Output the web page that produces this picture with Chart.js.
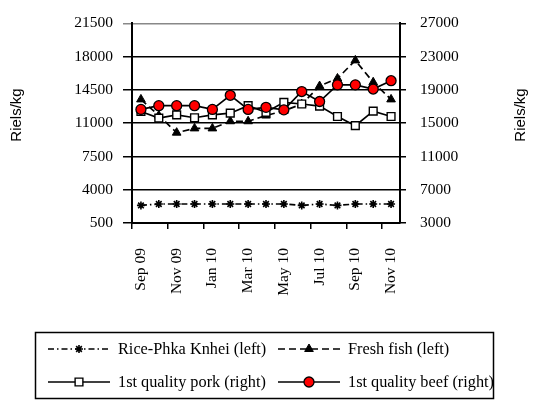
<!DOCTYPE html>
<html>
<head>
<meta charset="utf-8">
<script src="https://cdn.jsdelivr.net/npm/chart.js@4.4.1/dist/chart.umd.min.js"></script>
<style>
  body { margin: 0; background: #fff; }
</style>
</head>
<body>
<canvas id="chart" width="534" height="402"></canvas>
<script>
const months = ["Sep 09", "Oct 09", "Nov 09", "Dec 09", "Jan 10", "Feb 10", "Mar 10", "Apr 10",
  "May 10", "Jun 10", "Jul 10", "Aug 10", "Sep 10", "Oct 10", "Nov 10"];

// left axis series
const rice = [2350, 2500, 2500, 2500, 2500, 2500, 2500, 2500, 2500, 2350, 2500, 2350, 2500, 2500, 2500];
const fish = [13500, 11800, 10000, 10450, 10450, 11200, 11200, 11800, 12300, 13000, 14900, 15700, 17600, 15300, 13500];
// right axis series
const pork = [16400, 15600, 16000, 15650, 16000, 16200, 17100, 16300, 17500, 17300, 17050, 15800, 14700, 16450, 15800];
const beef = [16650, 17100, 17100, 17100, 16650, 18350, 16650, 16900, 16600, 18800, 17600, 19600, 19600, 19100, 20100];

const leftTicks = [500, 4000, 7500, 11000, 14500, 18000, 21500];
const rightTicks = [3000, 7000, 11000, 15000, 19000, 23000, 27000];
const axisTitle = "Riels/kg";

const serif = '"Liberation Serif", "Times New Roman", serif';
const sans = '"Liberation Sans", Arial, sans-serif';

// boxed 2x2 legend under the chart + both axis titles
const boxedLegend = {
  id: "boxedLegend",
  afterDraw(chart) {
    const ctx = chart.ctx;
    ctx.save();
    ctx.strokeStyle = "#000";
    ctx.lineWidth = 1.5;
    ctx.strokeRect(35.5, 332.5, 458, 66);
    const slots = [[48, 349], [278, 349], [48, 382], [278, 382]];
    chart.data.datasets.forEach((ds, i) => {
      const [x, y] = slots[i];
      ctx.beginPath();
      ctx.setLineDash(ds.borderDash || []);
      ctx.lineWidth = ds.borderWidth;
      ctx.strokeStyle = "#000";
      ctx.moveTo(x, y);
      ctx.lineTo(x + 62, y);
      ctx.stroke();
      ctx.setLineDash([]);
      ctx.fillStyle = ds.pointBackgroundColor;
      ctx.strokeStyle = ds.pointBorderColor;
      ctx.lineWidth = ds.pointBorderWidth;
      Chart.helpers.drawPoint(ctx, {
        pointStyle: ds.pointStyle, radius: ds.pointRadius, rotation: 0, borderWidth: ds.pointBorderWidth
      }, x + 31, y);
      ctx.fillStyle = "#000";
      ctx.font = "16.3px " + serif;
      ctx.textBaseline = "middle";
      ctx.textAlign = "left";
      ctx.fillText(ds.label, x + 70, y + 1);
    });
    ctx.font = "15px " + sans;
    ctx.textAlign = "center";
    ctx.textBaseline = "middle";
    [17, 521].forEach(x => {
      ctx.save();
      ctx.translate(x, 115);
      ctx.rotate(-Math.PI / 2);
      ctx.fillText(axisTitle, 0, 0);
      ctx.restore();
    });
    ctx.restore();
  }
};

const tickFont = { family: serif, size: 15.5 };

new Chart(document.getElementById("chart"), {
  type: "line",
  data: {
    labels: months,
    datasets: [
      {
        label: "Rice-Phka Knhei (left)", data: rice, yAxisID: "y",
        borderColor: "#000", borderWidth: 1.7, borderDash: [6, 3, 1.5, 3],
        pointStyle: "star", pointRadius: 4, pointBorderColor: "#000",
        pointBackgroundColor: "#000", pointBorderWidth: 1.6, order: 3
      },
      {
        label: "Fresh fish (left)", data: fish, yAxisID: "y",
        borderColor: "#000", borderWidth: 1.7, borderDash: [7, 4],
        pointStyle: "triangle", pointRadius: 5, pointBorderColor: "#000",
        pointBackgroundColor: "#000", pointBorderWidth: 1, order: 2
      },
      {
        label: "1st quality pork (right)", data: pork, yAxisID: "y2",
        borderColor: "#000", borderWidth: 1.7,
        pointStyle: "rect", pointRadius: 5.5, pointBorderColor: "#000",
        pointBackgroundColor: "#fff", pointBorderWidth: 1.4, order: 1
      },
      {
        label: "1st quality beef (right)", data: beef, yAxisID: "y2",
        borderColor: "#000", borderWidth: 1.7,
        pointStyle: "circle", pointRadius: 5, pointBorderColor: "#000",
        pointBackgroundColor: "#ff0000", pointBorderWidth: 1.3, order: 0
      }
    ]
  },
  options: {
    responsive: false,
    animation: false,
    events: [],
    layout: { padding: { top: 12, left: 0, right: 0, bottom: 0 } },
    plugins: { legend: { display: false }, tooltip: { enabled: false } },
    scales: {
      x: {
        offset: true,
        grid: {
          offset: true, drawOnChartArea: false, tickLength: 6, lineWidth: 1.5,
          color: c => (c.index % 2 === 0 ? "#000" : "rgba(0,0,0,0)")
        },
        border: { display: true, color: "#000", width: 2 },
        ticks: {
          autoSkip: false, minRotation: 90, maxRotation: 90, padding: 19,
          color: "#000", font: tickFont,
          callback: (v, i) => (i % 2 === 0 ? months[i] : "")
        },
        afterFit: s => { s.height = 179; }
      },
      y: {
        position: "left", min: 500, max: 21500,
        afterBuildTicks: s => { s.ticks = leftTicks.map(v => ({ value: v })); },
        grid: {
          tickLength: 9, lineWidth: 1.5,
          color: c => (c.tick && c.tick.value === 21500 ? "#888" : "#000")
        },
        border: { display: true, color: "#000", width: 2 },
        ticks: { padding: 10, color: "#000", font: tickFont, callback: v => String(v) },
        afterFit: s => { s.width = 132; }
      },
      y2: {
        position: "right", min: 3000, max: 27000,
        afterBuildTicks: s => { s.ticks = rightTicks.map(v => ({ value: v })); },
        grid: { drawOnChartArea: false, tickLength: 6, lineWidth: 1.5, color: "#000" },
        border: { display: true, color: "#000", width: 2 },
        ticks: { padding: 14, color: "#000", font: tickFont, callback: v => String(v) },
        afterFit: s => { s.width = 134; }
      }
    }
  },
  plugins: [boxedLegend]
});
</script>
</body>
</html>
